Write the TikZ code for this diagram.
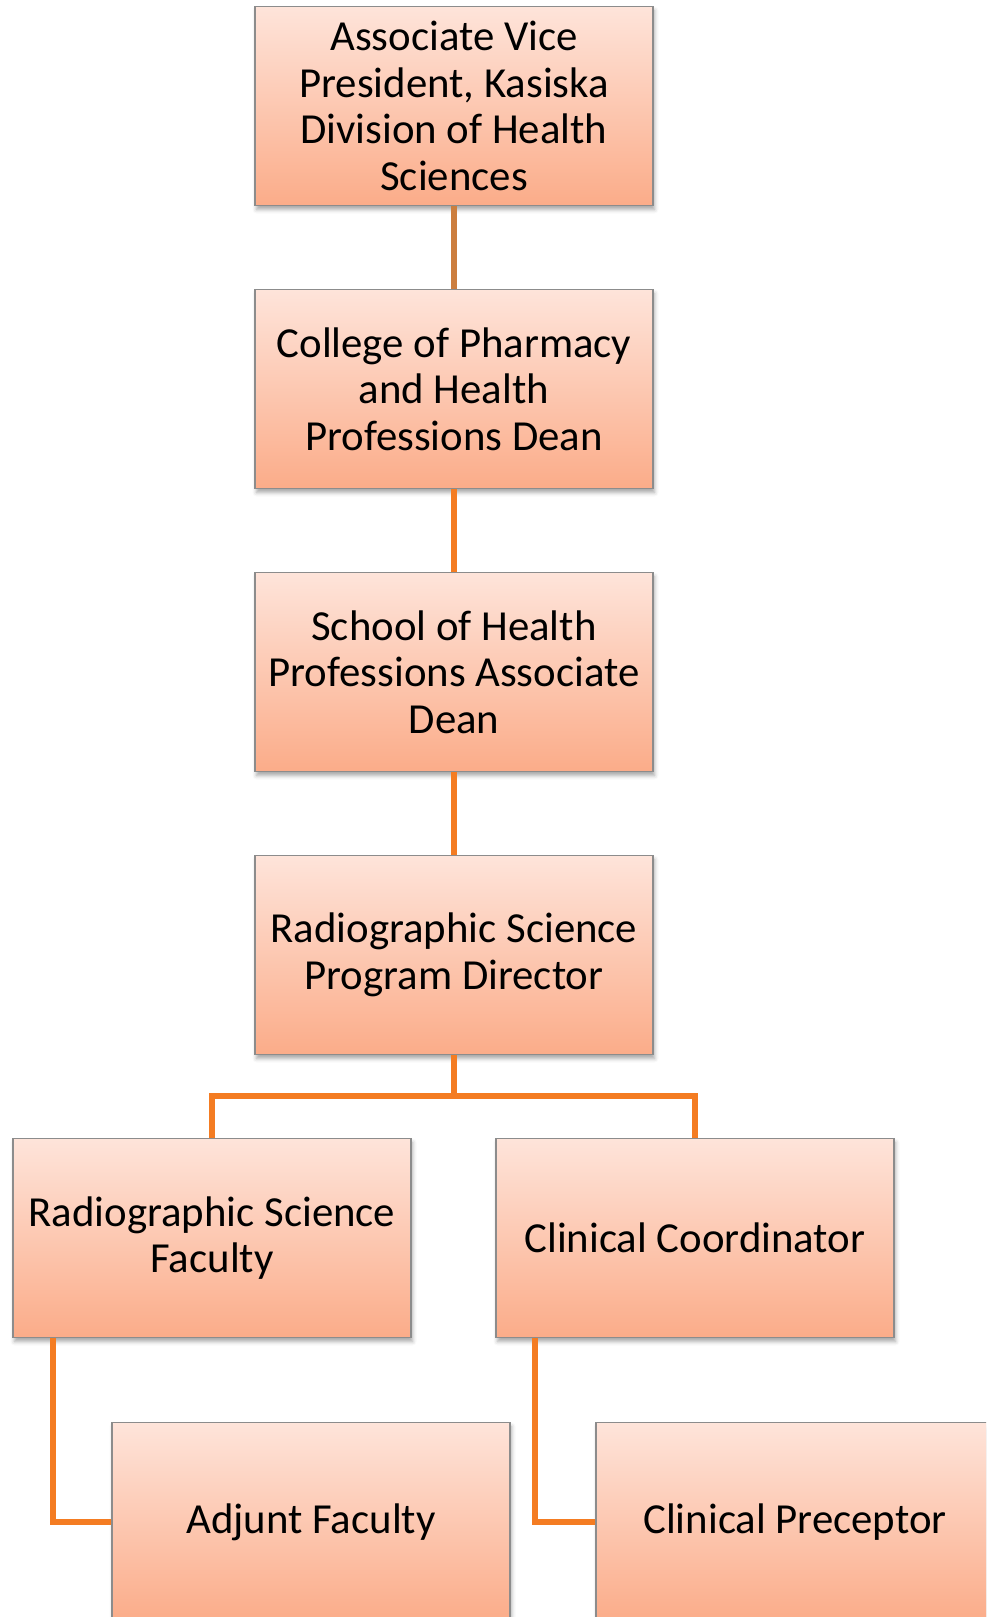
\documentclass[tikz,border=0pt]{standalone}
\usepackage{fontspec}
\setmainfont{Carlito}
\usetikzlibrary{shadows.blur}
\definecolor{boxtop}{HTML}{FEE4DA}
\definecolor{boxbot}{HTML}{FBAC89}
\definecolor{boxline}{HTML}{8C8C8C}
\definecolor{linkA}{HTML}{CC7E3E}
\definecolor{linkB}{HTML}{F47C22}
\tikzset{
  orgbox/.style={rectangle, draw=boxline, line width=1.2pt,
    top color=boxtop, bottom color=boxbot,
    minimum width=398pt, minimum height=199pt, inner sep=0pt,
    align=center, text=black,
    font=\fontsize{42.8}{46.5}\selectfont,
    blur shadow={shadow xshift=1.5pt, shadow yshift=-4pt, shadow blur radius=4pt, shadow opacity=35}},
  link/.style={draw=linkB, line width=5.5pt},
}
\begin{document}
\begin{tikzpicture}[x=1pt,y=-1pt]
\useasboundingbox (0,0) rectangle (986,1617);
\clip (0,0) rectangle (986,1617);
\node[orgbox] (b1) at (454,106) {Associate Vice\\President, Kasiska\\Division of Health\\Sciences};
\node[orgbox] (b2) at (454,389) {College of Pharmacy\\and Health\\Professions Dean};
\node[orgbox] (b3) at (454,672) {School of Health\\Professions Associate\\Dean};
\node[orgbox] (b4) at (454,955) {Radiographic Science\\Program Director};
\node[orgbox] (b5) at (212,1238) {Radiographic Science\\Faculty};
\node[orgbox] (b6) at (695,1238) {Clinical Coordinator};
\node[orgbox] (b7) at (311,1522) {Adjunt Faculty};
\node[orgbox] (b8) at (795,1522) {Clinical Preceptor};
\coordinate (j) at (454,1096);
\coordinate (c5) at (53,1338);
\coordinate (c6) at (535,1338);
\draw[link, draw=linkA] (b1.south) -- (b2.north);
\draw[link] (b2.south) -- (b3.north);
\draw[link] (b3.south) -- (b4.north);
\draw[link] (b4.south) -- (j);
\draw[link] (b5.north) |- (j) -| (b6.north);
\draw[link] (c5) |- (b7.west);
\draw[link] (c6) |- (b8.west);
\end{tikzpicture}
\end{document}
